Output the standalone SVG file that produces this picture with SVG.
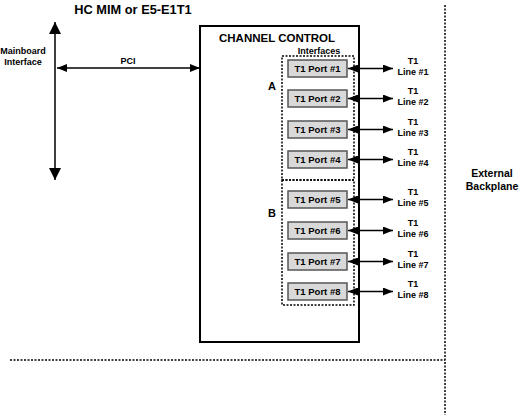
<svg xmlns="http://www.w3.org/2000/svg" width="526" height="415" viewBox="0 0 526 415">
<defs>
<marker id="ah" viewBox="0 0 10 8" refX="10" refY="4" markerWidth="10" markerHeight="8" markerUnits="userSpaceOnUse" orient="auto-start-reverse">
<path d="M0,0 L10,4 L0,8 Z" fill="#000"/>
</marker>
<marker id="ahb" viewBox="0 0 10 10" refX="10" refY="5" markerWidth="12" markerHeight="12" markerUnits="userSpaceOnUse" orient="auto-start-reverse">
<path d="M0,0 L10,5 L0,10 Z" fill="#000"/>
</marker>
</defs>
<style>
text{font-family:"Liberation Sans",Arial,sans-serif;font-weight:bold;fill:#000}
.port rect{fill:#d9d9d9;stroke:#555;stroke-width:1.5}
.port text{font-size:9.5px;text-anchor:middle}
.lbl{font-size:9px;text-anchor:middle}
.dot{fill:none;stroke:#000;stroke-width:1.5;stroke-dasharray:2,1.5}
.conn line{stroke:#000;stroke-width:1.5}
</style>
<rect width="526" height="415" fill="#fff"/>
<text x="133" y="14" font-size="12.8" text-anchor="middle">HC MIM or E5-E1T1</text>
<g id="mainboard">
<text class="lbl" x="23" y="54">Mainboard</text>
<text class="lbl" x="23" y="65">Interface</text>
</g>
<g id="channel-control">
<rect x="200" y="26" width="159" height="316" fill="#fff" stroke="#000" stroke-width="2"/>
<text x="277" y="42" font-size="11.5" text-anchor="middle">CHANNEL CONTROL</text>
<text class="lbl" x="319" y="54" font-size="8.5">Interfaces</text>
</g>
<g id="group-a">
<rect class="dot" x="282" y="56" width="72" height="124"/>
<text x="272" y="90" font-size="11" text-anchor="middle">A</text>
</g>
<g id="group-b">
<rect class="dot" x="282" y="180" width="72" height="125"/>
<text x="272" y="217" font-size="11" text-anchor="middle">B</text>
</g>
<g id="port1" class="port"><rect x="288" y="60" width="59" height="17"/><text x="317.5" y="72">T1 Port #1</text></g>
<g id="port2" class="port"><rect x="288" y="90" width="59" height="17"/><text x="317.5" y="102">T1 Port #2</text></g>
<g id="port3" class="port"><rect x="288" y="121" width="59" height="17"/><text x="317.5" y="133">T1 Port #3</text></g>
<g id="port4" class="port"><rect x="288" y="151" width="59" height="17"/><text x="317.5" y="163">T1 Port #4</text></g>
<g id="port5" class="port"><rect x="288" y="191" width="59" height="17"/><text x="317.5" y="203">T1 Port #5</text></g>
<g id="port6" class="port"><rect x="288" y="222" width="59" height="17"/><text x="317.5" y="234">T1 Port #6</text></g>
<g id="port7" class="port"><rect x="288" y="253" width="59" height="17"/><text x="317.5" y="265">T1 Port #7</text></g>
<g id="port8" class="port"><rect x="288" y="283" width="59" height="17"/><text x="317.5" y="295">T1 Port #8</text></g>
<g id="line1"><text class="lbl" x="413" y="64">T1</text><text class="lbl" x="413" y="75">Line #1</text></g>
<g id="line2"><text class="lbl" x="413" y="94">T1</text><text class="lbl" x="413" y="105">Line #2</text></g>
<g id="line3"><text class="lbl" x="413" y="125">T1</text><text class="lbl" x="413" y="136">Line #3</text></g>
<g id="line4"><text class="lbl" x="413" y="155">T1</text><text class="lbl" x="413" y="166">Line #4</text></g>
<g id="line5"><text class="lbl" x="413" y="195">T1</text><text class="lbl" x="413" y="206">Line #5</text></g>
<g id="line6"><text class="lbl" x="413" y="226">T1</text><text class="lbl" x="413" y="237">Line #6</text></g>
<g id="line7"><text class="lbl" x="413" y="257">T1</text><text class="lbl" x="413" y="268">Line #7</text></g>
<g id="line8"><text class="lbl" x="413" y="287">T1</text><text class="lbl" x="413" y="298">Line #8</text></g>
<g id="backplane">
<line class="dot" x1="445" y1="5" x2="445" y2="415"/>
<line class="dot" x1="10" y1="360" x2="445" y2="360"/>
<text x="492" y="177" font-size="10.5" text-anchor="middle">External</text>
<text x="492" y="190" font-size="10.5" text-anchor="middle">Backplane</text>
</g>
<g id="connectors" class="conn">
<line x1="55" y1="22" x2="55" y2="180" stroke-width="2.5" marker-start="url(#ahb)" marker-end="url(#ahb)"/>
<text x="128" y="64" font-size="9" text-anchor="middle">PCI</text>
<line x1="57" y1="68" x2="200" y2="68" marker-start="url(#ah)" marker-end="url(#ah)"/>
<line x1="348" y1="68.5" x2="393" y2="68.5" marker-start="url(#ah)" marker-end="url(#ah)"/>
<line x1="348" y1="98.5" x2="393" y2="98.5" marker-start="url(#ah)" marker-end="url(#ah)"/>
<line x1="348" y1="129.5" x2="393" y2="129.5" marker-start="url(#ah)" marker-end="url(#ah)"/>
<line x1="348" y1="159.5" x2="393" y2="159.5" marker-start="url(#ah)" marker-end="url(#ah)"/>
<line x1="348" y1="199.5" x2="393" y2="199.5" marker-start="url(#ah)" marker-end="url(#ah)"/>
<line x1="348" y1="230.5" x2="393" y2="230.5" marker-start="url(#ah)" marker-end="url(#ah)"/>
<line x1="348" y1="261.5" x2="393" y2="261.5" marker-start="url(#ah)" marker-end="url(#ah)"/>
<line x1="348" y1="291.5" x2="393" y2="291.5" marker-start="url(#ah)" marker-end="url(#ah)"/>
</g>
</svg>
